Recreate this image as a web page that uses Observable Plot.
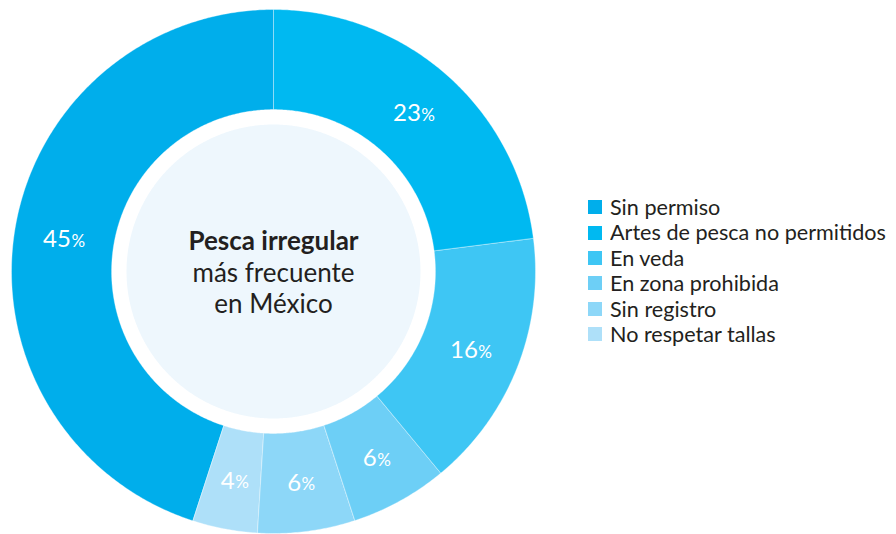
<!DOCTYPE html>
<html>
<head>
<meta charset="utf-8">
<script src="https://cdn.jsdelivr.net/npm/d3@7"></script>
<script src="https://cdn.jsdelivr.net/npm/@observablehq/plot@0.6"></script>
<style>
  html, body { margin: 0; padding: 0; background: #fff; }
  #wrap { position: relative; width: 896px; height: 534px; overflow: hidden; }
  #legend { position: absolute; left: 588px; top: 195px; width: 306px; }
  #legend svg { margin-right: 8px !important; }
</style>
</head>
<body>
<div id="wrap"><div id="chart"></div><div id="legend"></div></div>
<script>
// ---- data ----
const categories = ["Sin permiso", "Artes de pesca no permitidos", "En veda", "En zona prohibida", "Sin registro", "No respetar tallas"];
const values = [45, 23, 16, 6, 6, 4];
const colors = ["#00aeeb", "#00b9f1", "#3ec6f4", "#6dcff6", "#8dd7f8", "#aee0f9"];
// clockwise order starting at 12 o'clock
const sliceOrder = ["Artes de pesca no permitidos", "En veda", "En zona prohibida", "Sin registro", "No respetar tallas", "Sin permiso"];
const centerTitle = "Pesca irregular";
const centerLines = "más frecuente\nen México";

// ---- geometry (radii in scale units) ----
const R_OUT = 1, R_IN = 0.618, R_CENTER = 0.561, R_LABEL = 0.81;
const total = d3.sum(values);
const valueOf = Object.fromEntries(categories.map((c, i) => [c, values[i]]));

const slices = [];
let acc = 0;
for (const c of sliceOrder) {
  const v = valueOf[c];
  const a0 = acc / total * 2 * Math.PI;
  acc += v;
  const a1 = acc / total * 2 * Math.PI;
  slices.push({key: c, value: v, a0, a1, mid: (a0 + a1) / 2});
}
function arcPts(s) {
  const n = Math.max(4, Math.ceil((s.a1 - s.a0) / (Math.PI / 360)));
  const pts = [];
  for (let i = 0; i <= n; i++) {
    const a = s.a0 + (s.a1 - s.a0) * i / n;
    pts.push({key: s.key, x: R_OUT * Math.sin(a), y: R_OUT * Math.cos(a)});
  }
  for (let i = n; i >= 0; i--) {
    const a = s.a0 + (s.a1 - s.a0) * i / n;
    pts.push({key: s.key, x: R_IN * Math.sin(a), y: R_IN * Math.cos(a)});
  }
  return pts;
}
const polyPts = slices.flatMap(arcPts);
const centerPts = d3.range(0, 721).map(i => ({x: R_CENTER * Math.sin(i / 720 * 2 * Math.PI), y: R_CENTER * Math.cos(i / 720 * 2 * Math.PI)}));
const labels = slices.map(s => ({
  num: String(s.value),
  x: R_LABEL * Math.sin(s.mid),
  y: R_LABEL * Math.cos(s.mid),
  two: s.value >= 10
}));
const lab1 = labels.filter(d => !d.two), lab2 = labels.filter(d => d.two);

const font = "Lato, 'Open Sans', sans-serif";
const chart = Plot.plot({
  width: 896,
  height: 534,
  marginLeft: 11, marginRight: 361, marginTop: 9, marginBottom: 1,
  x: {domain: [-1, 1], axis: null},
  y: {domain: [-1, 1], axis: null},
  color: {domain: categories, range: colors},
  style: {fontFamily: font, background: "white"},
  marks: [
    Plot.line(polyPts, {x: "x", y: "y", z: "key", fill: "key", stroke: "#ffffff", strokeWidth: 0.8, strokeOpacity: 0.45, curve: "linear-closed"}),
    Plot.line(centerPts, {x: "x", y: "y", fill: "#eef7fd", stroke: "none", curve: "linear-closed"}),
    Plot.text(lab1, {x: "x", y: "y", text: "num", fill: "white", fontSize: 24, textAnchor: "end", dx: 1, dy: 1}),
    Plot.text(lab1, {x: "x", y: "y", text: () => "%", fill: "white", fontSize: 17, textAnchor: "start", dx: 1.5, dy: 3}),
    Plot.text(lab2, {x: "x", y: "y", text: "num", fill: "white", fontSize: 24, textAnchor: "end", dx: 7, dy: 1}),
    Plot.text(lab2, {x: "x", y: "y", text: () => "%", fill: "white", fontSize: 17, textAnchor: "start", dx: 7.5, dy: 3}),
    Plot.text([centerTitle], {x: () => 0, y: () => 0, text: d => d, fontSize: 26, fontWeight: "bold", fill: "#231f20", dy: -30}),
    Plot.text([centerLines], {x: () => 0, y: () => 0, text: d => d, fontSize: 26, fill: "#231f20", lineHeight: 1.19, dy: 16.5})
  ]
});
document.getElementById("chart").appendChild(chart);

const legend = Plot.legend({
  color: {type: "ordinal", domain: categories, range: colors},
  legend: "swatches",
  columns: 1,
  swatchSize: 14,
  style: {fontFamily: font, fontSize: "21.6px", color: "#231f20", lineHeight: "24.4px", width: "306px"}
});
document.getElementById("legend").appendChild(legend);
</script>
</body>
</html>
